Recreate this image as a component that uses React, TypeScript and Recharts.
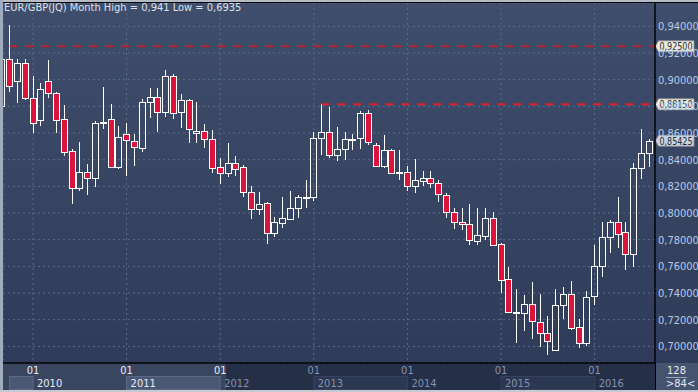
import React from 'react'
import { ComposedChart, Bar, XAxis, YAxis, CartesianGrid, ReferenceLine } from 'recharts'

// ─── data (monthly OHLC, EUR/GBP) ───────────────────────────────
const months = [
  '2009-09', '2009-10', '2009-11', '2009-12',
  '2010-01', '2010-02', '2010-03', '2010-04', '2010-05', '2010-06', '2010-07', '2010-08', '2010-09', '2010-10', '2010-11', '2010-12',
  '2011-01', '2011-02', '2011-03', '2011-04', '2011-05', '2011-06', '2011-07', '2011-08', '2011-09', '2011-10', '2011-11', '2011-12',
  '2012-01', '2012-02', '2012-03', '2012-04', '2012-05', '2012-06', '2012-07', '2012-08', '2012-09', '2012-10', '2012-11', '2012-12',
  '2013-01', '2013-02', '2013-03', '2013-04', '2013-05', '2013-06', '2013-07', '2013-08', '2013-09', '2013-10', '2013-11', '2013-12',
  '2014-01', '2014-02', '2014-03', '2014-04', '2014-05', '2014-06', '2014-07', '2014-08', '2014-09', '2014-10', '2014-11', '2014-12',
  '2015-01', '2015-02', '2015-03', '2015-04', '2015-05', '2015-06', '2015-07', '2015-08', '2015-09', '2015-10', '2015-11', '2015-12',
  '2016-01', '2016-02', '2016-03', '2016-04', '2016-05', '2016-06', '2016-07', '2016-08',
]

const opens = [
  0.8802, 0.9153, 0.8990, 0.9123,
  0.8860, 0.8697, 0.8990, 0.8898, 0.8703, 0.8465, 0.8185, 0.8305, 0.8260, 0.8674, 0.8703, 0.8343,
  0.8590, 0.8542, 0.8485, 0.8830, 0.8868, 0.8755, 0.9030, 0.8755, 0.8847, 0.8598, 0.8615, 0.8557,
  0.8347, 0.8302, 0.8373, 0.8343, 0.8155, 0.8028, 0.8073, 0.7848, 0.7923, 0.7953, 0.8035, 0.8115,
  0.8122, 0.8565, 0.8605, 0.8435, 0.8478, 0.8548, 0.8560, 0.8748, 0.8510, 0.8355, 0.8472, 0.8300,
  0.8305, 0.8205, 0.8242, 0.8260, 0.8223, 0.8135, 0.8005, 0.7930, 0.7915, 0.7792, 0.7830, 0.7960,
  0.7767, 0.7503, 0.7252, 0.7252, 0.7317, 0.7185, 0.7098, 0.6972, 0.7310, 0.7392, 0.7143, 0.7023,
  0.7377, 0.7605, 0.7818, 0.7930, 0.7855, 0.7690, 0.8340, 0.8448,
]
const highs = [
  0.9170, 0.9410, 0.9153, 0.9153,
  0.9027, 0.8977, 0.9147, 0.8910, 0.8810, 0.8480, 0.8535, 0.8367, 0.8690, 0.8947, 0.8817, 0.8652,
  0.8673, 0.8592, 0.8853, 0.8935, 0.8935, 0.9072, 0.9042, 0.8890, 0.8853, 0.8835, 0.8667, 0.8622,
  0.8410, 0.8523, 0.8427, 0.8360, 0.8202, 0.8160, 0.8085, 0.7968, 0.8118, 0.8165, 0.8135, 0.8247,
  0.8605, 0.8815, 0.8797, 0.8643, 0.8605, 0.8590, 0.8765, 0.8772, 0.8523, 0.8585, 0.8478, 0.8472,
  0.8352, 0.8403, 0.8317, 0.8315, 0.8247, 0.8152, 0.8035, 0.8035, 0.8067, 0.8035, 0.8035, 0.8010,
  0.7775, 0.7597, 0.7428, 0.7385, 0.7485, 0.7392, 0.7227, 0.7428, 0.7447, 0.7492, 0.7203, 0.7417,
  0.7760, 0.7935, 0.7947, 0.8118, 0.7930, 0.8377, 0.8630, 0.8555,
]
const lows = [
  0.8787, 0.8910, 0.8827, 0.8847,
  0.8602, 0.8652, 0.8865, 0.8602, 0.8427, 0.8065, 0.8167, 0.8137, 0.8197, 0.8628, 0.8335, 0.8328,
  0.8280, 0.8352, 0.8460, 0.8710, 0.8610, 0.8718, 0.8703, 0.8640, 0.8527, 0.8527, 0.8485, 0.8302,
  0.8217, 0.8268, 0.8280, 0.8122, 0.7953, 0.7985, 0.7765, 0.7818, 0.7885, 0.7947, 0.7960, 0.8035,
  0.8090, 0.8435, 0.8415, 0.8392, 0.8397, 0.8472, 0.8478, 0.8510, 0.8343, 0.8335, 0.8292, 0.8247,
  0.8167, 0.8152, 0.8205, 0.8190, 0.8080, 0.7960, 0.7878, 0.7872, 0.7760, 0.7760, 0.7797, 0.7749,
  0.7402, 0.7248, 0.7023, 0.7117, 0.7053, 0.6993, 0.6935, 0.6970, 0.7203, 0.7122, 0.6985, 0.7005,
  0.7310, 0.7522, 0.7700, 0.7735, 0.7572, 0.7597, 0.8253, 0.8343,
]
const closes = [
  0.9153, 0.8952, 0.9123, 0.8860,
  0.8673, 0.8928, 0.8898, 0.8697, 0.8460, 0.8185, 0.8305, 0.8260, 0.8673, 0.8680, 0.8343, 0.8572,
  0.8547, 0.8493, 0.8830, 0.8868, 0.8755, 0.9030, 0.8748, 0.8847, 0.8628, 0.8615, 0.8557, 0.8335,
  0.8302, 0.8373, 0.8328, 0.8155, 0.8028, 0.8065, 0.7848, 0.7930, 0.7960, 0.8035, 0.8118, 0.8122,
  0.8565, 0.8605, 0.8435, 0.8478, 0.8553, 0.8553, 0.8748, 0.8530, 0.8355, 0.8472, 0.8302, 0.8305,
  0.8205, 0.8247, 0.8260, 0.8223, 0.8140, 0.8005, 0.7930, 0.7915, 0.7797, 0.7835, 0.7960, 0.7760,
  0.7497, 0.7255, 0.7255, 0.7317, 0.7190, 0.7102, 0.7040, 0.7310, 0.7392, 0.7135, 0.7023, 0.7368,
  0.7605, 0.7818, 0.7930, 0.7842, 0.7690, 0.8340, 0.8448, 0.85425,
]

const yTicks = [0.70, 0.72, 0.74, 0.76, 0.78, 0.80, 0.82, 0.84, 0.86, 0.88, 0.90, 0.92, 0.94]

// 수평 레벨 (저항선) + 현재가
const level1 = { price: 0.925, label: '0,92500', from: 1 }
const level2 = { price: 0.8815, label: '0,88150', from: 41 }
const lastPrice = { price: 0.85425, label: '0,85425' }

const title = 'EUR/GBP(JQ) Month High = 0,941 Low = 0,6935'

// ─── layout ─────────────────────────────────────────────────────
const W = 698
const H = 392
const PLOT_L = 3
const PLOT_T = 3
const AXIS_W = 43
const XAXIS_H = 29
const PLOT_R = W - AXIS_W
const PLOT_B = H - XAXIS_H
const X_DOMAIN: [number, number] = [0.154, 83.74]
const Y_DOMAIN: [number, number] = [0.6875, 0.9575]
const STEP = (PLOT_R - PLOT_L) / (X_DOMAIN[1] - X_DOMAIN[0])
const FONT = "'Liberation Sans Narrow', 'DejaVu Sans Condensed', 'Liberation Sans', Arial, sans-serif"
const RED = '#dc143c'

const data = months.map((m, i) => ({
  idx: i,
  month: m,
  open: opens[i],
  high: highs[i],
  low: lows[i],
  close: closes[i],
  range: [lows[i], highs[i]],
}))

const janTicks = data.filter((d) => d.month.endsWith('-01')).map((d) => d.idx)

// ─── candle shape ───────────────────────────────────────────────
// 범위 Bar([low, high])의 y/height를 받아 시가·종가 위치를 비례로 계산
const Candle = (props: any) => {
  const { x, y, width, height, payload } = props
  if (!payload || y == null || height == null) return null
  const { open, close, high, low } = payload
  const top = Math.min(y, y + height)
  const h = Math.abs(height)
  const k = h / (high - low || 1)
  const yOf = (v: number) => top + (high - v) * k
  const up = close >= open
  const bTop = Math.round(yOf(Math.max(open, close))) + 0.5
  const bBot = Math.max(Math.round(yOf(Math.min(open, close))) + 0.5, bTop + 1)
  const cx = Math.floor(x + width / 2) + 0.5
  return (
    <g shapeRendering="crispEdges">
      <line x1={cx} x2={cx} y1={Math.round(top)} y2={bTop} stroke="#fff" strokeWidth={1} />
      <line x1={cx} x2={cx} y1={bBot} y2={Math.round(top + h)} stroke="#fff" strokeWidth={1} />
      <rect
        x={cx - 3}
        y={bTop}
        width={6}
        height={bBot - bTop}
        fill={up ? 'none' : RED}
        stroke="#fff"
        strokeWidth={1}
      />
    </g>
  )
}

// ─── ticks ──────────────────────────────────────────────────────
const fmt = (v: number) => v.toFixed(5).replace('.', ',')

const PriceTick = (props: any) => {
  const { x, y, payload } = props
  return (
    <text x={x} y={y} dy="0.36em" textAnchor="start" fontSize={11} fontFamily={FONT} fill="#b4cbec">
      {fmt(payload.value)}
    </text>
  )
}

const MonthTick = (props: any) => {
  const { x, y, payload } = props
  const i = payload.value
  const year = Number(months[i].slice(0, 4))
  const darkZone = year >= 2012
  const tickColor = year <= 2012 ? '#e8ecf4' : '#8494b0'
  const yearColor = darkZone ? '#8492ac' : '#e8ecf4'
  const boxes = []
  if (year % 2 === 1) {
    boxes.push(
      <rect key="b" x={x} y={y + 13.5} width={12 * STEP} height={13}
        fill={darkZone ? '#2c3752' : '#4b5874'} stroke={darkZone ? '#364260' : '#5c6986'} strokeWidth={1} />
    )
  }
  if (i === janTicks[0]) {
    // 앞쪽 2009년 구간 박스
    boxes.push(
      <rect key="p" x={x - 3 * STEP} y={y + 13.5} width={3 * STEP} height={13}
        fill="#4b5874" stroke="#5c6986" strokeWidth={1} />
    )
  }
  return (
    <g fontFamily={FONT} fontSize={11}>
      {boxes}
      <text x={x} y={y + 11} textAnchor="middle" fill={tickColor}>01</text>
      <text x={x + 4} y={y + 24} textAnchor="start" fill={yearColor}>{year}</text>
    </g>
  )
}

// 오른쪽 가격 태그
const PriceTag = (props: any) => {
  const { viewBox, text, fill } = props
  if (!viewBox) return null
  const x0 = viewBox.x + viewBox.width
  const y = viewBox.y
  return (
    <g>
      <path
        d={`M${x0 + 0.5},${y} L${x0 + 3.5},${y - 5.5} H${x0 + 39} V${y + 5.5} H${x0 + 3.5} Z`}
        fill={fill}
        stroke="#8c929c"
        strokeWidth={0.8}
      />
      <text x={x0 + 4.5} y={y} dy="0.36em" fontSize={11} fontFamily={FONT} fill="#1c2c44"
        textLength={33} lengthAdjust="spacingAndGlyphs">{text}</text>
    </g>
  )
}

export default function App() {
  return (
    <div style={{ position: 'relative', width: W, height: H, overflow: 'hidden', background: 'linear-gradient(#3f4e6c, #2e3a57)' }}>
      <style>{'body{margin:0}'}</style>

      {/* x축 띠 */}
      <div style={{ position: 'absolute', left: PLOT_L, top: PLOT_B, width: 226 - PLOT_L, height: 27, background: '#3a4660' }} />
      <div style={{ position: 'absolute', left: 226, top: PLOT_B, width: PLOT_R - 226, height: 27, background: '#252f48' }} />
      <div style={{ position: 'absolute', left: PLOT_R, top: PLOT_B, width: AXIS_W, height: 27, background: '#46536f' }} />

      <ComposedChart
        width={W}
        height={H}
        data={data}
        margin={{ top: PLOT_T, right: 0, bottom: 0, left: PLOT_L }}
        style={{ position: 'absolute', left: 0, top: 0, overflow: 'visible' }}
      >
        <CartesianGrid stroke="#5a6b8c" strokeDasharray="2 3" />
        <XAxis
          type="number"
          dataKey="idx"
          domain={X_DOMAIN}
          allowDataOverflow
          ticks={janTicks}
          interval={0}
          height={XAXIS_H}
          tickSize={0}
          tickMargin={0}
          tickLine={false}
          axisLine={{ stroke: '#000', strokeWidth: 1.5 }}
          tick={<MonthTick />}
        />
        <YAxis
          orientation="right"
          domain={Y_DOMAIN}
          allowDataOverflow
          ticks={yTicks}
          interval={0}
          width={AXIS_W}
          tickSize={0}
          tickMargin={3}
          tickLine={false}
          axisLine={{ stroke: '#000', strokeWidth: 1.5 }}
          tick={<PriceTick />}
        />
        <ReferenceLine
          segment={[{ x: level1.from, y: level1.price }, { x: X_DOMAIN[1], y: level1.price }]}
          stroke="#b52630"
          strokeWidth={2}
          strokeDasharray="8 8"
        />
        <ReferenceLine
          segment={[{ x: level2.from, y: level2.price }, { x: X_DOMAIN[1], y: level2.price }]}
          stroke="#e3202c"
          strokeWidth={2}
          strokeDasharray="8 8"
        />
        <Bar dataKey="range" barSize={6} shape={<Candle />} isAnimationActive={false} />
        <ReferenceLine y={level1.price} stroke="none" ifOverflow="visible" label={<PriceTag text={level1.label} fill="#eeead4" />} />
        <ReferenceLine y={level2.price} stroke="none" ifOverflow="visible" label={<PriceTag text={level2.label} fill="#eeead4" />} />
        <ReferenceLine y={lastPrice.price} stroke="none" ifOverflow="visible" label={<PriceTag text={lastPrice.label} fill="#cdd3dc" />} />
      </ComposedChart>

      {/* 제목 */}
      <div style={{ position: 'absolute', left: 4, top: 1, fontFamily: FONT, fontSize: 11, color: '#dde2ea', whiteSpace: 'nowrap' }}>
        {title}
      </div>

      {/* 우하단 박스 */}
      <div style={{ position: 'absolute', left: PLOT_R, top: PLOT_B, width: AXIS_W, height: 27, fontFamily: FONT, fontSize: 11, color: '#e6eaf0', textAlign: 'center', lineHeight: '13px' }}>
        <div style={{ paddingTop: 1 }}>128</div>
        <div style={{ borderTop: '1px solid #9aa4b6', margin: '0 11px', lineHeight: '12px' }}>&gt;84&lt;</div>
      </div>

      {/* 테두리 */}
      <div style={{ position: 'absolute', left: 0, top: 0, width: W, height: 2, background: '#b4bcc8' }} />
      <div style={{ position: 'absolute', left: PLOT_L, top: 2, width: W - PLOT_L, height: 1, background: '#000' }} />
      <div style={{ position: 'absolute', left: 0, top: 0, width: 2.5, height: H, background: '#a0abbd' }} />
      <div style={{ position: 'absolute', left: PLOT_R - 0.5, top: PLOT_B, width: 1.5, height: 27, background: '#000' }} />
      <div style={{ position: 'absolute', left: 0, top: H - 2.5, width: W, height: 2.5, background: '#c4cad4' }} />
    </div>
  )
}
